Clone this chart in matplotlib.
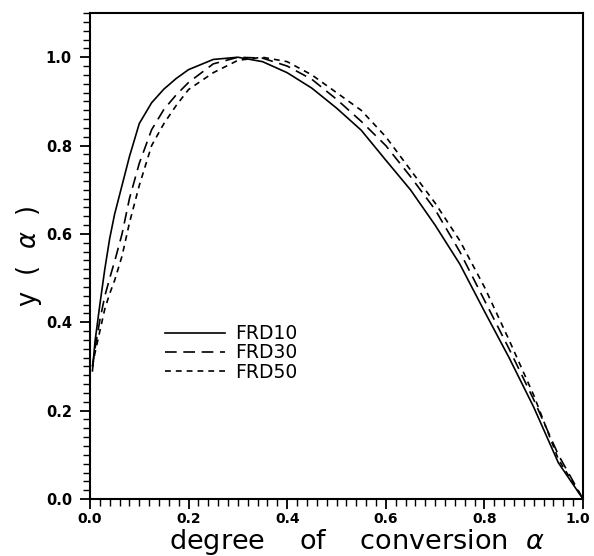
import matplotlib
matplotlib.use("Agg")
import matplotlib.pyplot as plt
import matplotlib.transforms as mtransforms
from matplotlib.ticker import MultipleLocator

# degree of conversion
alpha = [0.005, 0.01, 0.02, 0.03, 0.04, 0.05, 0.065, 0.08, 0.1, 0.125, 0.15,
         0.175, 0.2, 0.25, 0.3, 0.35, 0.4, 0.45, 0.5, 0.55, 0.6, 0.65, 0.7,
         0.75, 0.8, 0.85, 0.9, 0.95, 1.0]

# normalised y(alpha) for each sample
frd10 = [0.29, 0.355, 0.44, 0.52, 0.59, 0.645, 0.71, 0.775, 0.85, 0.897,
         0.928, 0.952, 0.972, 0.995, 1.0, 0.99, 0.965, 0.93, 0.885, 0.835,
         0.767, 0.70, 0.62, 0.532, 0.425, 0.32, 0.208, 0.082, 0.0]
frd30 = [0.30, 0.34, 0.405, 0.459, 0.50, 0.538, 0.60, 0.68, 0.76, 0.836,
         0.882, 0.915, 0.943, 0.985, 1.0, 0.998, 0.98, 0.95, 0.905, 0.855,
         0.80, 0.73, 0.655, 0.56, 0.45, 0.34, 0.225, 0.10, 0.0]
frd50 = [0.30, 0.33, 0.38, 0.43, 0.465, 0.495, 0.55, 0.625, 0.71, 0.80,
         0.85, 0.891, 0.927, 0.965, 0.993, 1.0, 0.99, 0.96, 0.92, 0.88,
         0.82, 0.745, 0.67, 0.585, 0.48, 0.36, 0.235, 0.09, 0.0]

labels = ["FRD10", "FRD30", "FRD50"]
xticks = [0.0, 0.2, 0.4, 0.6, 0.8, 1.0]
yticks = [0.0, 0.2, 0.4, 0.6, 0.8, 1.0]

fig = plt.figure(figsize=(5.94, 5.56), dpi=100)
ax = fig.add_axes([0.1515, 0.1025, 0.83, 0.874])

lw = 1.2
ax.plot(alpha, frd10, color="black", lw=lw, linestyle="-", label=labels[0])
ax.plot(alpha, frd30, color="black", lw=lw, dashes=(7, 4), label=labels[1])
ax.plot(alpha, frd50, color="black", lw=lw, dashes=(3.5, 3), label=labels[2])

ax.set_xlim(0, 1.0)
ax.set_ylim(0, 1.1)
ax.set_xticks(xticks)
ax.set_yticks(yticks)
ax.set_xticklabels([f"{v:.1f}" for v in xticks], fontsize=10, fontweight="bold")
ax.set_yticklabels([f"{v:.1f}" for v in yticks], fontsize=10.5, fontweight="bold")
ax.xaxis.set_minor_locator(MultipleLocator(0.02))
ax.yaxis.set_minor_locator(MultipleLocator(0.02))
ax.tick_params(axis="x", which="major", direction="out", length=7, width=1.3, pad=2)
ax.tick_params(axis="y", which="major", direction="out", length=7, width=1.3, pad=6)
ax.tick_params(which="minor", direction="out", length=5, width=1.0)
ax.tick_params(top=False, right=False)
for s in ax.spines.values():
    s.set_linewidth(1.5)

# keep the last x tick label inside the figure
last = ax.get_xticklabels()[-1]
last.set_transform(last.get_transform()
                   + mtransforms.ScaledTranslation(-4 / 72, 0, fig.dpi_scale_trans))

fig.text(0.601, 0.0125, "degree    of    conversion  $\\alpha$", fontsize=19.5,
         ha="center", va="baseline")
ax.set_ylabel("y  (  $\\alpha$  )", fontsize=18.5, labelpad=1)

leg = ax.legend(loc="upper left", bbox_to_anchor=(0.152, 0.36), frameon=False,
                fontsize=13.5, handlelength=3.2, handletextpad=0.55,
                labelspacing=0.02, borderpad=0, borderaxespad=0)

fig.savefig("out.png", dpi=100)
